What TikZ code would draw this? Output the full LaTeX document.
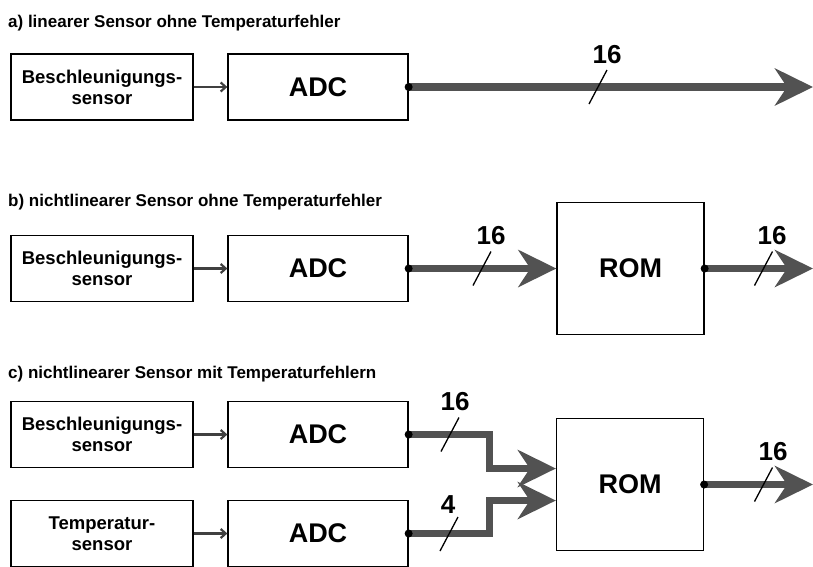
\documentclass[tikz,border=0pt]{standalone}
\usepackage{fontspec}
\setmainfont{Liberation Sans}
\usetikzlibrary{arrows.meta}

\begin{document}
\begin{tikzpicture}[x=1pt,y=-1pt,
 title/.style={anchor=base west,inner sep=0pt,font=\fontsize{17}{20}\selectfont\bfseries},
 sens/.style={draw,line width=1.3pt,minimum width=182pt,minimum height=66pt,align=center,inner sep=0pt,font=\fontsize{18.5}{21}\selectfont\bfseries},
 adc/.style={draw,line width=1.3pt,minimum width=180pt,minimum height=66pt,inner sep=0pt,font=\fontsize{27}{30}\selectfont\bfseries},
 rom/.style={draw,line width=1.3pt,minimum width=147pt,minimum height=132pt,inner sep=0pt,font=\fontsize{27}{30}\selectfont\bfseries},
 feed/.style={draw=black!75,line width=2.2pt,-{Straight Barb[length=5pt,width=9pt]}},
 bus/.style={draw=black!68,line width=7.5pt,line cap=round,-{Stealth[length=38pt,width=37pt,inset=12pt]}},
 num/.style={inner sep=0pt,font=\fontsize{26}{28}\selectfont\bfseries},
 tick/.style={line width=1.3pt}]
 \useasboundingbox (0,0) rectangle (813,566);
 \node[title] (ta) at (8,27) {a) linearer Sensor ohne Temperaturfehler};
 \node[title] (tb) at (8,206) {b) nichtlinearer Sensor ohne Temperaturfehler};
 \node[title] (tc) at (8,378) {c) nichtlinearer Sensor mit Temperaturfehlern};
 \node[sens] (sensA) at (102,87) {Beschleunigungs-\\sensor};
 \node[adc] (adcA) at (318,87) {ADC};
 \node[sens] (sensB) at (102,268.5) {Beschleunigungs-\\sensor};
 \node[adc] (adcB) at (318,268.5) {ADC};
 \node[rom] (romB) at (630.5,268.5) {ROM};
 \node[sens] (sensC) at (102,434.5) {Beschleunigungs-\\sensor};
 \node[adc] (adcC) at (318,434.5) {ADC};
 \node[sens] (sensD) at (102,533.5) {Temperatur-\\sensor};
 \node[adc] (adcD) at (318,533.5) {ADC};
 \node[rom] (romC) at (630,484.5) {ROM};
 \coordinate (outA) at (813,87);
 \coordinate (outB) at (813,268.5);
 \coordinate (outC) at (813,484.5);
 \foreach \a/\b in {sensA/adcA,sensB/adcB,sensC/adcC,sensD/adcD}
  \draw[feed] (\a) -- (\b);
 \draw[bus] (adcA.east) -- (outA);
 \draw[bus] (adcB.east) -- (romB.west);
 \draw[bus] (romB.east) -- (outB);
 \draw[bus] (adcC.east) -- ++(81,0) |- ([yshift=16pt]romC.west);
 \draw[bus] (adcD.east) -- ++(81,0) |- ([yshift=-16pt]romC.west);
 \draw[bus] (romC.east) -- (outC);
 \foreach \n in {adcA,adcB,romB,adcC,adcD,romC}
  \fill (\n.east) circle (4);
 \foreach \x/\y/\lx/\ly/\n [count=\i] in
  {598/87/607/55/16,482/268.5/491/236/16,763.5/268.5/772/236/16,
   450/434.5/455/402/16,449/534/448/505/4,763.5/484.5/773/452/16}{
  \draw[tick] (\x+9,\y-17) -- (\x-9,\y+17);
  \node[num] (lab\i) at (\lx,\ly) {\n};}
\end{tikzpicture}
\end{document}
